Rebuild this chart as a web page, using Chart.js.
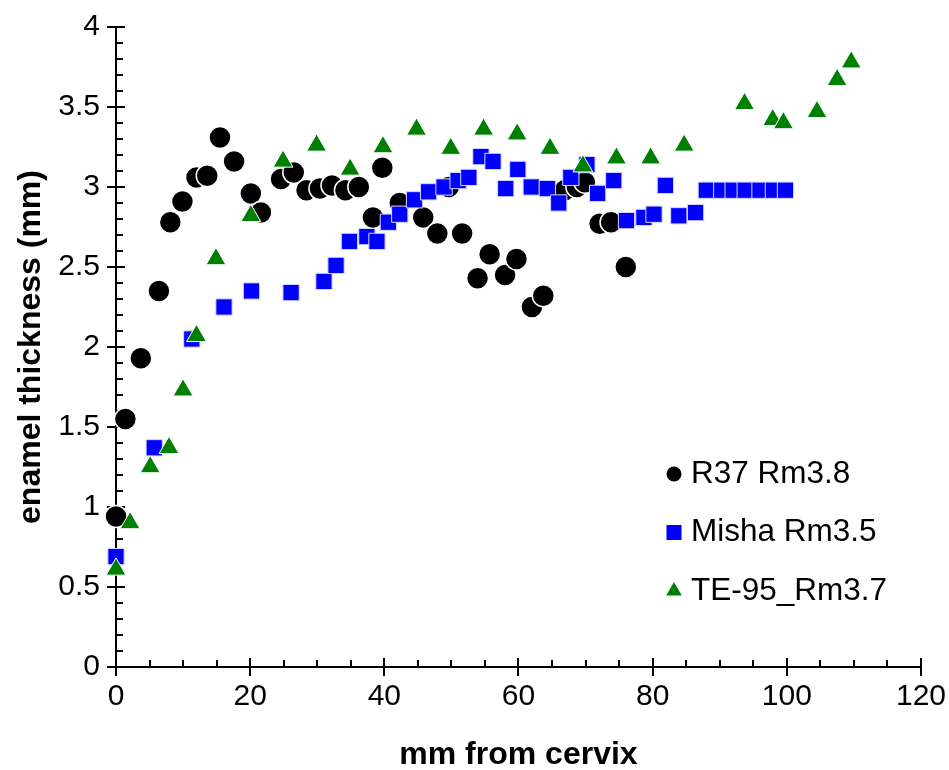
<!DOCTYPE html>
<html>
<head>
<meta charset="utf-8">
<script src="https://cdn.jsdelivr.net/npm/chart.js@4.4.1/dist/chart.umd.min.js"></script>
<style>
  html, body { margin: 0; padding: 0; background: #fff; }
  #wrap { width: 949px; height: 770px; }
</style>
</head>
<body>
<div id="wrap"><canvas id="chart" width="949" height="770"></canvas></div>
<script>
  // values
  const r37X = [0, 1.4, 3.7, 6.4, 8.1, 9.9, 12.0, 13.6, 15.5, 17.6, 20.1, 21.6, 24.6, 26.5, 28.4, 30.4, 32.2, 34.2, 36.2, 38.3, 39.7, 42.3, 45.8, 47.9, 49.6, 51.6, 53.9, 55.7, 58.0, 59.7, 62.0, 63.7, 66.9, 68.7, 69.9, 72.1, 73.8, 76.0];
  const r37Y = [0.94, 1.55, 1.93, 2.35, 2.78, 2.91, 3.06, 3.07, 3.31, 3.16, 2.96, 2.84, 3.05, 3.09, 2.98, 2.99, 3.01, 2.98, 3.0, 2.81, 3.12, 2.90, 2.81, 2.71, 3.0, 2.71, 2.43, 2.58, 2.45, 2.55, 2.25, 2.32, 2.98, 3.0, 3.03, 2.77, 2.78, 2.50];

  const mishaX = [0, 5.7, 11.3, 16.1, 20.2, 26.1, 31.0, 32.8, 34.8, 37.4, 38.9, 40.6, 42.3, 44.5, 46.6, 48.9, 51.0, 52.6, 54.4, 56.2, 58.1, 59.9, 61.9, 64.3, 66.0, 67.8, 70.2, 71.8, 74.2, 76.1, 78.7, 80.2, 81.9, 83.9, 86.4, 88.0, 90.3, 92.0, 93.8, 96.0, 98.0, 99.8];
  const mishaY = [0.69, 1.37, 2.05, 2.25, 2.35, 2.34, 2.41, 2.51, 2.66, 2.69, 2.66, 2.78, 2.83, 2.92, 2.97, 3.0, 3.04, 3.06, 3.19, 3.16, 2.99, 3.11, 3.0, 2.99, 2.90, 3.06, 3.14, 2.96, 3.04, 2.79, 2.81, 2.83, 3.01, 2.82, 2.84, 2.98, 2.98, 2.98, 2.98, 2.98, 2.98, 2.98];

  const te95X = [0, 2.1, 5.1, 7.9, 10.0, 12.0, 14.9, 20.1, 24.9, 29.9, 34.9, 39.8, 44.8, 49.9, 54.8, 59.8, 64.7, 69.6, 74.6, 79.7, 84.7, 93.7, 97.9, 99.5, 104.5, 107.5, 109.6];
  const te95Y = [0.61, 0.90, 1.25, 1.37, 1.73, 2.07, 2.55, 2.82, 3.16, 3.26, 3.11, 3.25, 3.36, 3.24, 3.36, 3.33, 3.24, 3.13, 3.18, 3.18, 3.26, 3.52, 3.42, 3.40, 3.47, 3.67, 3.78];

  const seriesNames = ['R37 Rm3.8', 'Misha Rm3.5', 'TE-95_Rm3.7'];
  const xRange = [0, 120];
  const yRange = [0, 4];

  const FONT = "'Liberation Sans', Arial, sans-serif";
  Chart.defaults.color = '#000';
  Chart.defaults.font.family = FONT;

  function pairs(xs, ys) {
    return xs.map((x, i) => ({ x, y: ys[i] }));
  }

  function drawMarker(ctx, style, x, y, r, fill) {
    ctx.beginPath();
    if (style === 'circle') {
      ctx.arc(x, y, r, 0, Math.PI * 2);
    } else if (style === 'rect') {
      ctx.rect(x - r, y - r, r * 2, r * 2);
    } else {
      ctx.moveTo(x, y - r);
      ctx.lineTo(x + r * 0.866, y + r / 2);
      ctx.lineTo(x - r * 0.866, y + r / 2);
      ctx.closePath();
    }
    ctx.fillStyle = fill;
    ctx.fill();
  }

  // tick marks that reach into the plot (major ones cross the axis)
  const innerTicks = {
    id: 'innerTicks',
    beforeDatasetsDraw(chart) {
      const { ctx, chartArea: a, scales: { x, y } } = chart;
      ctx.save();
      ctx.strokeStyle = '#000';
      ctx.lineWidth = 2;
      ctx.beginPath();
      for (let i = 0; i <= 24; i++) {
        const px = Math.round(x.getPixelForValue(i * 5));
        const len = i % 4 === 0 ? 9 : 7;
        ctx.moveTo(px, a.bottom);
        ctx.lineTo(px, a.bottom - len);
      }
      for (let i = 0; i <= 40; i++) {
        const py = Math.round(y.getPixelForValue(i / 10));
        const len = i % 5 === 0 ? 9 : 7;
        ctx.moveTo(a.left, py);
        ctx.lineTo(a.left + len, py);
      }
      ctx.stroke();
      ctx.restore();
    }
  };

  const legendBox = {
    id: 'legendBox',
    afterDraw(chart, args, opts) {
      const { ctx } = chart;
      ctx.save();
      ctx.font = `31.5px ${FONT}`;
      ctx.textBaseline = 'middle';
      ctx.textAlign = 'left';
      chart.data.datasets.forEach((ds, i) => {
        const y = opts.top + i * opts.spacing;
        drawMarker(ctx, ds.pointStyle, opts.x, y, opts.markers[i], ds.pointBackgroundColor);
        ctx.fillStyle = '#000';
        ctx.fillText(ds.label, opts.x + 17, y);
      });
      ctx.restore();
    }
  };

  new Chart(document.getElementById('chart'), {
    type: 'scatter',
    data: {
      datasets: [
        {
          label: seriesNames[0],
          data: pairs(r37X, r37Y),
          pointStyle: 'circle',
          pointRadius: 11,
          pointBackgroundColor: '#000000',
          pointBorderColor: '#ffffff',
          pointBorderWidth: 1.5,
          order: 3,
          clip: false
        },
        {
          label: seriesNames[1],
          data: pairs(mishaX, mishaY),
          pointStyle: 'rect',
          pointRadius: 11.5,
          pointBackgroundColor: '#0000ff',
          pointBorderColor: '#d8d8ff',
          pointBorderWidth: 1,
          order: 2,
          clip: false
        },
        {
          label: seriesNames[2],
          data: pairs(te95X, te95Y),
          pointStyle: 'triangle',
          pointRadius: 11.5,
          pointBackgroundColor: '#008000',
          pointBorderColor: '#ffffff',
          pointBorderWidth: 1,
          order: 1,
          clip: false
        }
      ]
    },
    options: {
      responsive: false,
      animation: false,
      devicePixelRatio: 1,
      layout: { padding: { top: 27, right: 28, left: 0, bottom: 0 } },
      plugins: {
        legend: { display: false },
        tooltip: { enabled: false },
        legendBox: { x: 674, top: 474, spacing: 58.5, markers: [7.5, 7.5, 9] }
      },
      scales: {
        x: {
          type: 'linear',
          min: xRange[0],
          max: xRange[1],
          ticks: { stepSize: 20, padding: 3, font: { size: 30 } },
          grid: { drawOnChartArea: false, tickLength: 9, color: '#000', lineWidth: 2 },
          border: { color: '#000', width: 2 },
          title: { display: true, text: 'mm from cervix', font: { size: 32, weight: 'bold', lineHeight: 0.95 }, padding: { top: 0, bottom: 0 } },
          afterFit(scale) { scale.height = 103; }
        },
        y: {
          type: 'linear',
          min: yRange[0],
          max: yRange[1],
          ticks: { stepSize: 0.5, padding: 7, font: { size: 30 }, callback: v => String(v) },
          grid: { drawOnChartArea: false, tickLength: 9, color: '#000', lineWidth: 2 },
          border: { color: '#000', width: 2 },
          title: { display: true, text: 'enamel thickness (mm)', font: { size: 32, weight: 'bold', lineHeight: 1.2 }, padding: { top: 12, bottom: 0 } },
          afterFit(scale) { scale.width = 116; }
        }
      }
    },
    plugins: [innerTicks, legendBox]
  });
</script>
</body>
</html>
